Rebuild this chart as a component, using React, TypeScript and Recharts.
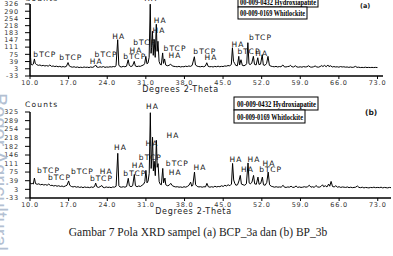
import React from "react";
import { LineChart, Line, XAxis, YAxis, ReferenceDot, Label } from "recharts";

// 2-theta ticks shared by both scans
const xTicks = [10, 17, 24, 31, 38, 45, 52, 59, 66, 73];
const yTicksA = [-33, 3, 39, 75, 111, 147, 183, 218, 254, 290, 326];
const yTicksB = [-33, 3, 39, 75, 111, 146, 182, 218, 254, 289, 325];

// (a) BCP_3a  [2-theta, counts]
const scanA: [number, number][] = [
  [10.0, 325], [10.1, 60], [10.2, 25], [10.4, 22], [10.6, 26], [10.8, 52], [10.95, 30],
  [11.2, 24], [11.5, 20], [11.8, 22], [12.1, 18], [12.4, 20], [12.7, 17], [13.0, 19],
  [13.3, 16], [13.6, 22], [13.9, 15], [14.2, 17], [14.5, 14], [14.8, 16], [15.1, 13],
  [15.4, 15], [15.7, 12], [16.0, 14], [16.3, 12], [16.6, 15], [16.9, 34], [17.1, 18],
  [17.4, 13], [17.7, 11], [18.0, 13], [18.3, 10], [18.6, 12], [18.9, 9], [19.2, 11],
  [19.5, 9], [19.8, 12], [20.1, 10], [20.4, 11], [20.7, 9], [21.0, 12], [21.3, 10],
  [21.6, 13], [21.9, 22], [22.1, 12], [22.4, 10], [22.7, 13], [23.0, 11], [23.3, 14],
  [23.6, 10], [23.9, 12], [24.2, 11], [24.5, 13], [24.8, 12], [25.1, 14], [25.4, 13],
  [25.6, 18], [25.9, 148], [26.1, 22], [26.3, 14], [26.6, 12], [26.9, 15], [27.2, 13],
  [27.5, 16], [27.8, 48], [28.0, 20], [28.3, 14], [28.6, 18], [28.9, 40], [29.1, 17],
  [29.4, 14], [29.7, 16], [30.0, 15], [30.3, 19], [30.6, 22], [30.8, 30], [31.0, 65],
  [31.2, 28], [31.4, 32], [31.6, 60], [31.8, 325], [31.95, 80], [32.05, 110], [32.2, 190],
  [32.35, 70], [32.5, 150], [32.7, 60], [32.9, 225], [33.05, 90], [33.2, 140], [33.4, 40],
  [33.6, 25], [33.8, 22], [34.05, 82], [34.2, 30], [34.4, 52], [34.6, 22], [34.9, 18],
  [35.2, 20], [35.5, 26], [35.8, 17], [36.1, 15], [36.4, 14], [36.7, 13], [37.0, 15],
  [37.3, 12], [37.6, 14], [37.9, 13], [38.2, 16], [38.5, 14], [38.8, 17], [39.1, 15],
  [39.4, 20], [39.8, 63], [40.0, 22], [40.3, 16], [40.6, 14], [40.9, 13], [41.2, 15],
  [41.5, 13], [41.8, 17], [42.05, 33], [42.3, 15], [42.6, 13], [42.9, 14], [43.2, 12],
  [43.5, 15], [43.8, 13], [44.1, 16], [44.4, 13], [44.7, 15], [45.0, 14], [45.3, 17],
  [45.6, 16], [45.9, 19], [46.2, 18], [46.5, 24], [46.7, 108], [46.9, 40], [47.1, 30],
  [47.3, 20], [47.6, 18], [47.85, 65], [48.0, 22], [48.25, 48], [48.5, 20], [48.8, 18],
  [49.1, 22], [49.3, 30], [49.5, 133], [49.7, 28], [49.9, 24], [50.2, 30], [50.5, 65],
  [50.7, 25], [51.0, 22], [51.3, 58], [51.5, 24], [51.8, 26], [52.1, 73], [52.3, 22],
  [52.6, 20], [52.9, 30], [53.15, 65], [53.4, 20], [53.7, 16], [54.0, 14], [54.3, 13],
  [54.6, 15], [54.9, 12], [55.2, 14], [55.5, 13], [55.85, 22], [56.1, 13], [56.4, 12],
  [56.7, 14], [57.0, 15], [57.2, 20], [57.5, 13], [57.8, 12], [58.1, 18], [58.4, 12],
  [58.7, 11], [59.0, 13], [59.3, 11], [59.6, 14], [59.9, 12], [60.2, 13], [60.5, 18],
  [60.8, 12], [61.1, 11], [61.4, 13], [61.7, 17], [62.0, 12], [62.3, 11], [62.6, 14],
  [62.9, 19], [63.1, 14], [63.4, 20], [63.7, 13], [64.0, 22], [64.2, 14], [64.5, 18],
  [64.8, 12], [65.1, 14], [65.4, 12], [65.7, 13], [66.0, 11], [66.3, 14], [66.6, 12],
  [66.9, 13], [67.2, 11], [67.5, 12], [67.8, 10], [68.1, 12], [68.4, 10], [68.7, 11],
  [69.0, 15], [69.3, 10], [69.6, 11], [69.9, 9], [70.2, 10], [70.5, 9], [70.8, 11],
  [71.1, 9], [71.4, 10], [71.7, 9], [72.0, 10], [72.3, 9], [72.6, 10], [73.0, 9],
];

// (b) BP_3b  [2-theta, counts]
const scanB: [number, number][] = [
  [10.0, 30], [10.2, 26], [10.4, 28], [10.6, 25], [10.8, 50], [11.0, 27], [11.3, 24],
  [11.6, 26], [11.9, 22], [12.2, 24], [12.5, 21], [12.8, 23], [13.1, 20], [13.4, 25],
  [13.7, 19], [14.0, 20], [14.3, 17], [14.6, 19], [14.9, 16], [15.2, 18], [15.5, 15],
  [15.8, 17], [16.1, 14], [16.4, 17], [16.7, 20], [17.0, 38], [17.2, 20], [17.5, 15],
  [17.8, 13], [18.1, 15], [18.4, 12], [18.7, 14], [19.0, 11], [19.3, 13], [19.6, 10],
  [19.9, 13], [20.2, 11], [20.5, 12], [20.8, 10], [21.1, 13], [21.4, 11], [21.7, 15],
  [21.9, 29], [22.1, 14], [22.4, 11], [22.7, 14], [23.0, 19], [23.2, 12], [23.5, 10],
  [23.8, 13], [24.1, 11], [24.4, 12], [24.7, 10], [25.0, 13], [25.3, 12], [25.6, 16],
  [25.9, 153], [26.1, 18], [26.3, 13], [26.6, 12], [26.9, 14], [27.2, 12], [27.5, 15],
  [27.8, 49], [28.0, 18], [28.3, 14], [28.6, 18], [28.9, 65], [29.1, 18], [29.4, 14],
  [29.7, 17], [30.0, 15], [30.3, 20], [30.6, 25], [30.8, 35], [31.0, 82], [31.2, 30],
  [31.4, 38], [31.6, 70], [31.8, 322], [31.95, 90], [32.05, 130], [32.2, 220], [32.35, 80],
  [32.5, 120], [32.7, 60], [32.9, 207], [33.05, 95], [33.2, 110], [33.4, 35], [33.6, 24],
  [33.8, 22], [34.05, 90], [34.2, 30], [34.45, 50], [34.6, 22], [34.9, 18], [35.2, 20],
  [35.5, 28], [35.8, 18], [36.1, 15], [36.4, 13], [36.7, 14], [37.0, 12], [37.3, 13],
  [37.6, 11], [37.9, 14], [38.2, 12], [38.5, 15], [38.8, 20], [39.1, 33], [39.3, 16],
  [39.5, 20], [39.8, 75], [40.0, 22], [40.3, 15], [40.6, 13], [40.9, 14], [41.2, 12],
  [41.5, 14], [41.8, 13], [42.05, 28], [42.3, 14], [42.6, 12], [42.9, 14], [43.2, 12],
  [43.5, 16], [43.8, 13], [44.1, 15], [44.4, 14], [44.7, 18], [45.0, 15], [45.3, 20],
  [45.6, 17], [45.9, 22], [46.2, 18], [46.5, 25], [46.7, 111], [46.9, 42], [47.1, 28],
  [47.3, 20], [47.6, 22], [47.85, 38], [48.1, 61], [48.3, 25], [48.6, 22], [48.9, 20],
  [49.2, 26], [49.5, 113], [49.7, 30], [49.9, 26], [50.2, 32], [50.5, 61], [50.7, 26],
  [51.0, 24], [51.3, 54], [51.5, 24], [51.8, 28], [52.1, 54], [52.3, 22], [52.6, 20],
  [52.9, 32], [53.15, 75], [53.4, 22], [53.7, 16], [54.0, 14], [54.3, 12], [54.6, 14],
  [54.9, 12], [55.2, 13], [55.5, 12], [55.85, 20], [56.1, 12], [56.4, 11], [56.7, 13],
  [57.0, 12], [57.3, 16], [57.6, 11], [57.9, 12], [58.2, 17], [58.5, 11], [58.8, 13],
  [59.1, 11], [59.4, 12], [59.7, 14], [60.0, 12], [60.3, 14], [60.6, 20], [60.9, 12],
  [61.2, 14], [61.5, 11], [61.8, 19], [62.1, 13], [62.4, 12], [62.7, 15], [63.0, 22],
  [63.2, 14], [63.5, 18], [63.8, 13], [64.1, 25], [64.3, 16], [64.55, 36], [64.8, 15],
  [65.1, 13], [65.4, 18], [65.7, 12], [66.0, 14], [66.3, 11], [66.6, 13], [66.9, 12],
  [67.2, 11], [67.5, 13], [67.8, 10], [68.1, 12], [68.4, 10], [68.7, 11], [69.0, 12],
  [69.3, 17], [69.6, 11], [69.9, 10], [70.2, 12], [70.5, 9], [70.8, 11], [71.1, 10],
  [71.4, 9], [71.7, 11], [72.0, 10], [72.3, 12], [72.6, 10], [73.0, 11], [73.3, 10],
  [73.6, 12], [73.9, 9], [74.2, 11], [74.5, 10], [74.8, 9], [75.1, 11], [75.4, 10],
];

// phase labels [text, 2-theta, counts]
const peaksA: [string, number, number][] = [
  ["bTCP", 12.7, 73], ["bTCP", 17.4, 58], ["HA", 22.0, 38], ["bTCP", 23.8, 73],
  ["HA", 26.1, 163], ["bTCP", 29.0, 63], ["HA", 29.2, 93], ["bTCP", 30.8, 133],
  ["HA", 31.9, 353], ["HA", 33.6, 243], ["HA", 33.4, 193], ["bTCP", 36.3, 103],
  ["HA", 36.3, 68], ["bTCP", 41.7, 88], ["HA", 42.8, 58], ["HA", 47.7, 123],
  ["bTCP", 51.8, 158], ["bTCP", 49.7, 88], ["HA", 52.0, 78],
];

const peaksB: [string, number, number][] = [
  ["bTCP", 13.35, 83], ["bTCP", 15.35, 54], ["bTCP", 19.5, 79], ["HA", 23.8, 79],
  ["bTCP", 22.95, 50], ["HA", 26.4, 178], ["HA", 29.6, 104], ["bTCP", 29.0, 71],
  ["bTCP", 31.8, 137], ["HA", 32.2, 349], ["HA", 32.1, 195], ["HA", 35.9, 228],
  ["bTCP", 36.7, 112], ["HA", 36.3, 75], ["HA", 40.8, 96], ["HA", 47.3, 129],
  ["HA", 50.6, 129], ["HA", 49.4, 87], ["bTCP", 53.6, 87], ["HA", 53.3, 112],
];

const tickFont = { fontSize: 6.5, fill: "#333", fontFamily: "DejaVu Sans", letterSpacing: 0.8 };

type PanelProps = {
  scan: [number, number][];
  yTicks: number[];
  peaks: [string, number, number][];
  xMax: number;
  height: number;
  margin: { top: number; right: number; bottom: number; left: number };
  labelDx: number;
};

function XrdPanel({ scan, yTicks, peaks, xMax, height, margin, labelDx }: PanelProps) {
  const data = scan.map(([t, c]) => ({ t, c }));
  return (
    <LineChart width={393} height={height} data={data} margin={margin}>
      <XAxis
        type="number"
        dataKey="t"
        domain={[10, xMax]}
        ticks={xTicks}
        interval={0}
        allowDataOverflow
        tickFormatter={(v: number) => v.toFixed(1)}
        tick={tickFont}
        tickSize={3}
        tickMargin={1}
        height={16}
        axisLine={{ stroke: "#000", strokeWidth: 1.5 }}
        tickLine={{ stroke: "#000" }}
      >
        <Label
          value="Degrees 2-Theta"
          position="insideBottom"
          offset={0}
          dx={labelDx}
          style={{ fontSize: 8, fill: "#222", fontFamily: "DejaVu Sans", letterSpacing: 0.7 }}
        />
      </XAxis>
      <YAxis
        type="number"
        domain={[yTicks[0], yTicks[yTicks.length - 1]]}
        ticks={yTicks}
        interval={0}
        allowDataOverflow
        width={30}
        tick={tickFont}
        tickSize={5}
        tickMargin={6}
        axisLine={{ stroke: "#000", strokeWidth: 1.5 }}
        tickLine={{ stroke: "#000" }}
      />
      <Line type="linear" dataKey="c" stroke="#000" strokeWidth={1} dot={false} isAnimationActive={false} />
      {peaks.map(([text, t, c], i) => (
        <ReferenceDot
          key={i}
          x={t}
          y={c}
          r={0}
          fill="none"
          stroke="none"
          ifOverflow="visible"
          label={{ value: text, position: "center", fill: "#111", fontSize: 7.5, fontFamily: "DejaVu Sans", letterSpacing: 1.1 }}
        />
      ))}
    </LineChart>
  );
}

export default function App() {
  const boxText = { fontFamily: "Liberation Serif", fontWeight: 700, fontSize: 8.5 };
  return (
    <div style={{ position: "absolute", left: 0, top: 0, width: 393, height: 256, background: "#fff", overflow: "hidden" }}>
      <div style={{ position: "absolute", left: 0, top: 0 }}>
        <XrdPanel scan={scanA} yTicks={yTicksA} peaks={peaksA} xMax={74} height={95}
          margin={{ top: 4, right: 10, bottom: 3, left: 0 }} labelDx={-26} />
      </div>
      <div style={{ position: "absolute", left: 0, top: 100 }}>
        <XrdPanel scan={scanB} yTicks={yTicksB} peaks={peaksB} xMax={75.4} height={120}
          margin={{ top: 12, right: 2, bottom: 6, left: 0 }} labelDx={-17} />
      </div>
      <svg width={393} height={256} style={{ position: "absolute", left: 0, top: 0, pointerEvents: "none" }}>
        <text x={25} y={1} fontSize={7.5} fontFamily="DejaVu Sans" letterSpacing={1.2} fill="#222">Counts</text>
        <text x={25} y={107} fontSize={7.5} fontFamily="DejaVu Sans" letterSpacing={1.2} fill="#222">Counts</text>

        <rect x={238} y={-6} width={80} height={13} fill="#fff" stroke="#000" />
        <text x={240} y={4.5} textLength={76} lengthAdjust="spacingAndGlyphs" {...boxText}>00-009-0432 Hydroxiapatite</text>
        <rect x={238} y={7} width={69} height={12} fill="#fff" stroke="#000" />
        <text x={240} y={16} textLength={65} lengthAdjust="spacingAndGlyphs" {...boxText}>00-009-0169 Whitlockite</text>
        <text x={360} y={8} fontSize={6.5} fontFamily="DejaVu Sans" fontWeight={700} fill="#222">(a)</text>

        <rect x={234} y={97} width={84} height={13} fill="#fff" stroke="#000" />
        <text x={237} y={107} textLength={79} lengthAdjust="spacingAndGlyphs" {...boxText}>00-009-0432 Hydroxiapatite</text>
        <rect x={234} y={110} width={71} height={13} fill="#fff" stroke="#000" />
        <text x={237} y={120} textLength={66} lengthAdjust="spacingAndGlyphs" {...boxText}>00-009-0169 Whitlockite</text>
        <text x={365} y={115} fontSize={7.5} fontFamily="DejaVu Sans" fontWeight={700} fill="#222">(b)</text>

        <text x={198} y={236} textAnchor="middle" fontSize={11.5} fontFamily="Liberation Serif" fill="#222">
          Gambar 7 Pola XRD sampel (a) BCP_3a dan (b) BP_3b
        </text>
      </svg>
      <div style={{ position: "absolute", left: -11, top: 93, writingMode: "vertical-rl", fontFamily: "Liberation Sans", fontSize: 20, color: "#b3c0d2", lineHeight: "22px", whiteSpace: "nowrap" }}>
        Bogor Agricultural University
      </div>
    </div>
  );
}
